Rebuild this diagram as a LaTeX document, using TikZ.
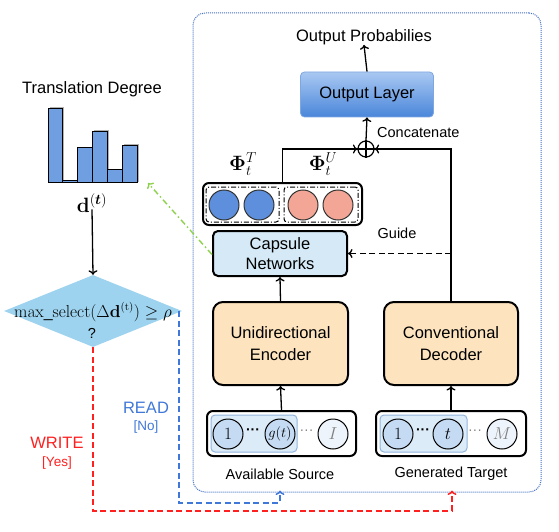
\documentclass[tikz,border=0pt]{standalone}
\usepackage{amsmath,bm}
\usepackage[no-math]{fontspec}
\setmainfont{Liberation Sans}
\usetikzlibrary{shapes.geometric,arrows.meta}
\definecolor{outblue}{HTML}{4472C4}
\definecolor{capsfill}{HTML}{D5EAF6}
\definecolor{encfill}{HTML}{FDE4BF}
\definecolor{capblue}{HTML}{5D8FDC}
\definecolor{cappink}{HTML}{F3A696}
\definecolor{inblue}{HTML}{C5DBF3}
\definecolor{inpale}{HTML}{EEF4FB}
\definecolor{hlfill}{HTML}{DCEBF8}
\definecolor{hldraw}{HTML}{8FB3DC}
\definecolor{diafill}{HTML}{9DD3EE}
\definecolor{barfill}{HTML}{6F9FE0}
\definecolor{gguide}{HTML}{8FD14F}
\definecolor{rline}{HTML}{FF2020}
\definecolor{bline}{HTML}{3F78D8}
\definecolor{oltop}{HTML}{A9C8F2}
\definecolor{olbot}{HTML}{4A86DA}
\definecolor{oldraw}{HTML}{7EA6E0}
\begin{document}
\begin{tikzpicture}[x=1pt,y=-1pt,
  big/.style={inner sep=0pt, font=\fontsize{16.5}{19.5}\selectfont},
  mid/.style={inner sep=0pt, font=\fontsize{14.5}{17}\selectfont},
  small/.style={inner sep=0pt, font=\fontsize{13.5}{16}\selectfont},
  arr/.style={-{To[length=4.5pt,width=9pt]}, line width=1.3pt},
  darr/.style={-{To[length=4.5pt,width=9pt]}, line width=1.5pt, dash pattern=on 6pt off 3.5pt},
  blockbox/.style={draw, line width=2pt, rounded corners=10pt, fill=encfill, align=center,
     font=\fontsize{16.5}{22}\selectfont, minimum width=135pt, minimum height=83pt},
  inbox/.style={draw, line width=2pt, rounded corners=6pt, minimum width=149pt, minimum height=45pt},
  hlbox/.style={draw=hldraw, line width=1pt, fill=hlfill, rounded corners=4pt, minimum width=86pt, minimum height=37pt},
  incirc/.style={circle, draw, line width=1pt, fill=inblue, minimum size=30pt, inner sep=0pt, font=\fontsize{16}{18}\selectfont},
  incircpale/.style={incirc, fill=inpale, text=gray},
  capcirc/.style={circle, draw=black!80, line width=1pt, minimum size=30pt, inner sep=0pt},
  ddbox/.style={draw, line width=1pt, rounded corners=3pt, dash pattern=on 5pt off 2pt on 1pt off 2pt, minimum width=73pt, minimum height=35pt},
  lbl/.style={inner sep=0pt, font=\fontsize{14.5}{17}\selectfont},
  dotsb/.style={inner sep=0pt, font=\bfseries\fontsize{14}{16}\selectfont},
  dotsl/.style={inner sep=0pt, text=gray, font=\fontsize{14}{16}\selectfont}
]
\useasboundingbox (0,0) rectangle (559,532);

% outer dotted frame
\node[draw=outblue, line width=1pt, densely dotted, rounded corners=12pt,
      minimum width=348pt, minimum height=479pt] (outer) at (367,252.5) {};

% top part
\node[big] (outprob) at (364,37) {Output Probabilies};
\node[draw=oldraw, line width=0.8pt, top color=oltop, bottom color=olbot, rounded corners=4pt,
      minimum width=133pt, minimum height=45pt, big] (ol) at (367,94.5) {Output Layer};
\node[circle, draw, line width=1.2pt, minimum size=16pt, inner sep=0pt] (op) at (366,149) {};
\draw[line width=1.2pt] (op.north) -- (op.south) (op.west) -- (op.east);
\node[lbl, anchor=west] (concat) at (377,133) {Concatenate};
\draw[arr] (op.north) -- (ol.south);
\draw[arr] (ol.north) -- (outprob.south);

% capsule group
\node[draw, line width=2pt, rounded corners=6pt, minimum width=159pt, minimum height=42pt] (cg) at (282.5,204) {};
\node[ddbox] (ddl) at (242.5,204.5) {};
\node[ddbox, minimum width=74pt] (ddr) at (321,204.5) {};
\node[capcirc, fill=capblue] (c1) at (224,205) {};
\node[capcirc, fill=capblue] (c2) at (259,205) {};
\node[capcirc, fill=cappink] (c3) at (303,205) {};
\node[capcirc, fill=cappink] (c4) at (338,205) {};
\node[inner sep=0pt, font=\fontsize{22}{24}\selectfont] (phit) at (243,164) {$\mathbf{\Phi}_t^T$};
\node[inner sep=0pt, font=\fontsize{22}{24}\selectfont] (phiu) at (323,164) {$\mathbf{\Phi}_t^U$};

\node[draw, line width=2pt, rounded corners=5pt, fill=capsfill, align=center,
      minimum width=134pt, minimum height=45pt, font=\fontsize{16.5}{20}\selectfont] (caps) at (280,253.5) {Capsule\\Networks};

% encoder / decoder
\node[blockbox] (enc) at (280.5,343.5) {Unidirectional\\Encoder};
\node[blockbox, minimum width=134pt] (dec) at (451,343.5) {Conventional\\Decoder};

% inputs
\node[inbox] (src) at (281.5,433.5) {};
\node[hlbox] (srchl) at (254,433.5) {};
\node[incirc] (s1) at (228,434) {$1$};
\node[incirc, font=\fontsize{14.5}{17}\selectfont] (sg) at (280,434) {$g(t)$};
\node[incircpale] (sI) at (333,434) {$I$};
\node[dotsb] (sd1) at (253,432) {···};
\node[dotsl] (sd2) at (306.5,432) {···};

\node[inbox, minimum width=150pt] (tgt) at (451,433.5) {};
\node[hlbox, minimum width=87pt] (tgthl) at (423.5,433.5) {};
\node[incirc] (t1) at (398,434) {$1$};
\node[incirc] (tt) at (448,434) {$t$};
\node[incircpale] (tM) at (502,434) {$M$};
\node[dotsb] (td1) at (423,432) {···};
\node[dotsl] (td2) at (475,432) {···};

\node[lbl] (avs) at (280,474) {Available Source};
\node[lbl] (gtg) at (451,474) {Generated Target};

% internal connectors
\draw[arr] (src.north) -- (enc.south);
\draw[arr] (tgt.north) -- (dec.south);
\draw[arr] (enc.north) -- (caps.south);
\draw[arr] (cg.north) |- (op.west);
\draw[arr] (dec.north) |- (op.east);
\coordinate (gd) at (dec.north |- caps.east);
\draw[darr, line width=1.3pt] (gd) -- (caps.east);
\node[lbl] (guide) at (397,233) {Guide};

% left part
\node[big] (td) at (92,89) {Translation Degree};
\begin{scope}[line width=1pt]
\fill[gray!60] (49.5,107.5) rectangle (63.5,182);
\fill[gray!60] (93.5,129.5) rectangle (108.5,182);
\fill[gray!60] (123.5,143.5) rectangle (138.5,182);
\filldraw[fill=barfill] (48,182) rectangle (62,109);
\filldraw[fill=barfill] (62,182) rectangle (77,180);
\filldraw[fill=barfill] (77,182) rectangle (92,147);
\filldraw[fill=barfill] (92,182) rectangle (107,131);
\filldraw[fill=barfill] (107,182) rectangle (122,169);
\filldraw[fill=barfill] (122,182) rectangle (137,145);
\end{scope}
\node[inner sep=0pt, font=\fontsize{21}{24}\selectfont] (dt) at (92,203) {$\mathbf{d}^{(\bm{t})}$};

\node[diamond, fill=diafill, minimum width=178pt, minimum height=72pt, inner sep=0pt] (dia) at (93,311) {};
\node[inner sep=0pt, font=\fontsize{16}{19}\selectfont] (cond) at (93,312) {$\mathrm{max\_select}(\Delta\mathbf{d}^{(\mathrm{t})})\geq\rho$};
\node[mid] (q) at (92,333) {?};
\draw[arr] ([yshift=3pt]dt.south) -- (dia.north);

% green guide
\coordinate (gtip) at (148,183);
\draw[-{To[length=4.5pt,width=9pt]}, line width=1.4pt, gguide, dash pattern=on 6pt off 3pt on 1.5pt off 3pt] ([yshift=-1pt]caps.west) -- (gtip);

% READ / WRITE
\coordinate (bt) at (280,503);
\coordinate (rt) at (452,511);
\draw[darr, bline] ([xshift=-3pt]dia.east) |- (bt) -- ([yshift=2pt]bt |- outer.south);
\draw[darr, rline] (dia.south) |- (rt) -- ([yshift=2pt]rt |- outer.south);

\node[big, text=rline] (wr) at (57,443) {WRITE};
\node[small, text=rline] (yes) at (57,463) {[Yes]};
\node[big, text=bline] (rd) at (146,408) {READ};
\node[small, text=bline] (no) at (146,427) {[No]};
\end{tikzpicture}
\end{document}
